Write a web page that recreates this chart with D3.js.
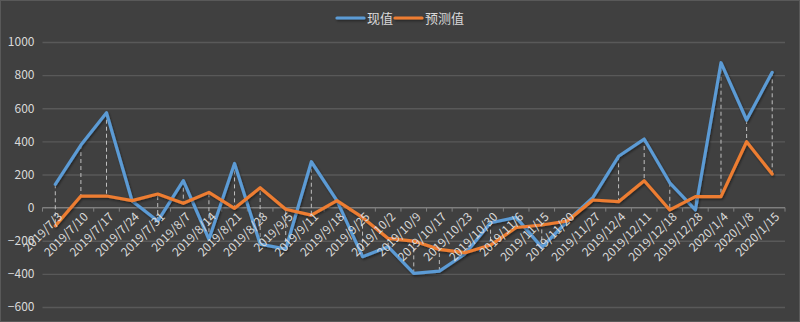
<!DOCTYPE html>
<html>
<head>
<meta charset="utf-8">
<script src="https://cdn.jsdelivr.net/npm/d3@7"></script>
<style>
  html, body { margin: 0; padding: 0; background: #404040; }
  svg { display: block; }
  text { font-family: "Noto Sans CJK SC", "Noto Sans", sans-serif; }
</style>
</head>
<body>
<svg id="chart" width="800" height="322"></svg>
<script>
// Weekly dates
const categories = [
  "2019/7/3", "2019/7/10", "2019/7/17", "2019/7/24", "2019/7/31", "2019/8/7",
  "2019/8/14", "2019/8/21", "2019/8/28", "2019/9/5", "2019/9/11", "2019/9/18",
  "2019/9/25", "2019/10/2", "2019/10/9", "2019/10/17", "2019/10/23", "2019/10/30",
  "2019/11/6", "2019/11/15", "2019/11/20", "2019/11/27", "2019/12/4", "2019/12/11",
  "2019/12/18", "2019/12/28", "2020/1/4", "2020/1/8", "2020/1/15"
];
// 现值
const actual = [
  141, 378, 573, 40, -81, 163,
  -191, 267, -220, -250, 277, 42,
  -296, -236, -397, -383, -280, -91,
  -59, -240, -81, 62, 310, 414,
  150, -14, 875, 529, 817
];
// 预测值
const forecast = [
  -110, 70, 70, 42, 82, 26,
  92, -4, 120, -10, -45, 42,
  -59, -186, -202, -252, -272, -226,
  -120, -105, -81, 46, 36, 162,
  -14, 66, 66, 398, 203
];
const yTicks = [-600, -400, -200, 0, 200, 400, 600, 800, 1000];
const seriesNames = ["现值", "预测值"];
const colors = ["#5B9BD5", "#ED7D31"];

const svg = d3.select("#chart");
const W = 800, H = 322;
const plot = { left: 42.5, right: 785, top: 42, bottom: 307 };

svg.append("rect").attr("x", 0.5).attr("y", 0.5)
  .attr("width", W - 1).attr("height", H - 1)
  .attr("fill", "#404040").attr("stroke", "#595959");

const defs = svg.append("defs");
const shadow = defs.append("filter").attr("id", "shadow")
  .attr("filterUnits", "userSpaceOnUse")
  .attr("x", 0).attr("y", 0).attr("width", W).attr("height", H);
shadow.append("feDropShadow").attr("dx", 1).attr("dy", 1.5)
  .attr("stdDeviation", 1.2).attr("flood-color", "#000").attr("flood-opacity", 0.45);

const x = d3.scaleBand().domain(categories).range([plot.left, plot.right]);
const y = d3.scaleLinear().domain([-600, 1000]).range([plot.bottom, plot.top]);
const cx = d => x(d) + x.bandwidth() / 2;

// Horizontal gridlines and value labels
const yAxis = d3.axisLeft(y).tickValues(yTicks)
  .tickSize(-(plot.right - plot.left)).tickPadding(8).tickFormat(d3.format("d"));
const gy = svg.append("g").attr("transform", `translate(${plot.left},0)`).call(yAxis);
gy.select(".domain").remove();
gy.selectAll(".tick line").attr("stroke", "#595959").attr("stroke-width", 1.3);
gy.selectAll(".tick text").attr("fill", "#d9d9d9").attr("font-size", 12);

// Category axis along zero
const boundaries = categories.map(c => x(c)).concat([plot.right]);
const gx = svg.append("g");
gx.append("line")
  .attr("x1", plot.left).attr("x2", plot.right)
  .attr("y1", y(0)).attr("y2", y(0))
  .attr("stroke", "#7f7f7f").attr("stroke-width", 1.2);
gx.selectAll("line.tk").data(boundaries).join("line").attr("class", "tk")
  .attr("x1", d => d).attr("x2", d => d)
  .attr("y1", y(0)).attr("y2", y(0) + 4)
  .attr("stroke", "#7f7f7f");

// High-low connectors between the two series
svg.append("g").selectAll("line").data(categories).join("line")
  .attr("x1", d => cx(d)).attr("x2", d => cx(d))
  .attr("y1", (d, i) => y(actual[i])).attr("y2", (d, i) => y(forecast[i]))
  .attr("stroke", "#bfbfbf").attr("stroke-width", 1)
  .attr("stroke-dasharray", "4,3");

// Series lines
const line = d3.line().x(d => cx(d.c)).y(d => y(d.v));
[actual, forecast].forEach((vals, k) => {
  const pts = categories.map((c, i) => ({ c, v: vals[i] }));
  svg.append("path").datum(pts)
    .attr("d", line)
    .attr("fill", "none")
    .attr("stroke", colors[k])
    .attr("stroke-width", 3.2)
    .attr("stroke-linejoin", "round")
    .attr("stroke-linecap", "round")
    .attr("filter", "url(#shadow)");
});

// Rotated category labels
svg.append("g").selectAll("text").data(categories).join("text")
  .attr("transform", d => `translate(${cx(d) + 5},${y(0) + 7}) rotate(-45)`)
  .attr("text-anchor", "end")
  .attr("dy", "0.35em")
  .attr("fill", "#d9d9d9")
  .attr("font-size", 12)
  .text(d => d);

// Legend
const legend = svg.append("g");
const legendItems = [
  { name: seriesNames[0], color: colors[0], x: 337 },
  { name: seriesNames[1], color: colors[1], x: 395 }
];
legendItems.forEach(it => {
  legend.append("line")
    .attr("x1", it.x).attr("x2", it.x + 27)
    .attr("y1", 18).attr("y2", 18)
    .attr("stroke", it.color).attr("stroke-width", 3.2)
    .attr("stroke-linecap", "round")
    .attr("filter", "url(#shadow)");
  legend.append("text")
    .attr("x", it.x + 30).attr("y", 18).attr("dy", "0.35em")
    .attr("fill", "#d9d9d9").attr("font-size", 13)
    .text(it.name);
});
</script>
</body>
</html>
